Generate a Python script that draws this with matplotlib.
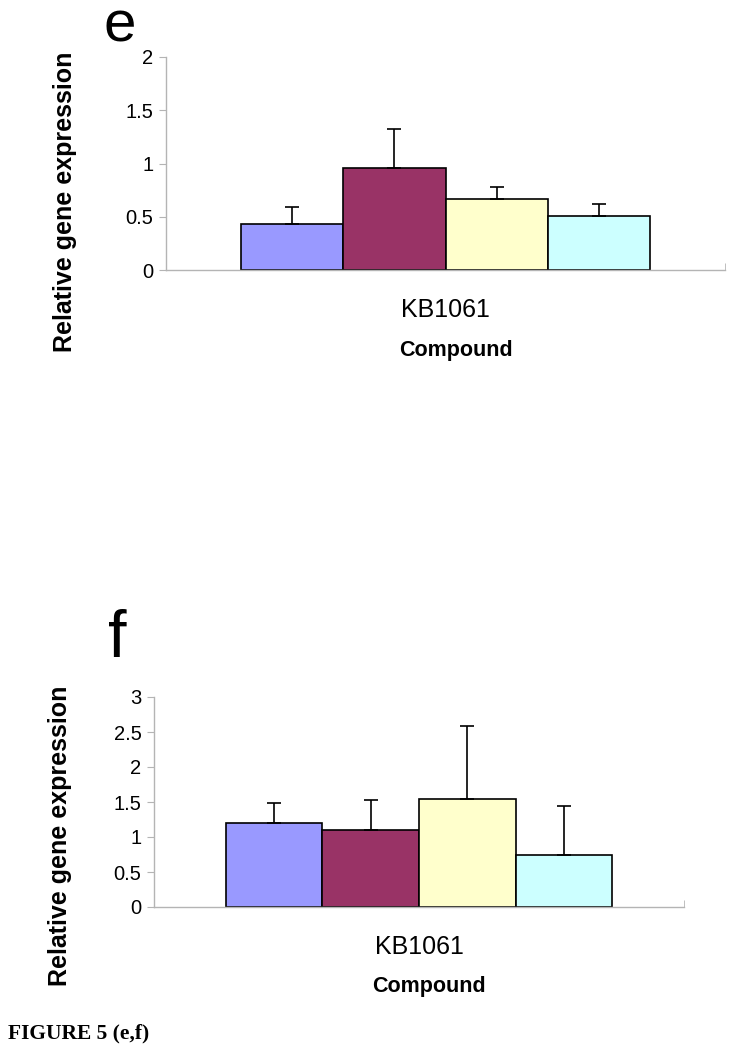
import numpy as np
import matplotlib
matplotlib.use("Agg")
import matplotlib.pyplot as plt

plt.rcParams["font.family"] = ["Liberation Sans", "DejaVu Sans"]

# data
groups = ["KB1061"]
colors = ["#9999FF", "#993366", "#FFFFCC", "#CCFFFF"]
e_vals = [0.43, 0.96, 0.67, 0.51]
e_err = [0.16, 0.36, 0.11, 0.11]
f_vals = [1.20, 1.10, 1.54, 0.74]
f_err = [0.29, 0.43, 1.04, 0.70]
e_ticks = [0, 0.5, 1, 1.5, 2]
f_ticks = [0, 0.5, 1, 1.5, 2, 2.5, 3]

W, H = 737, 1050
fig = plt.figure(figsize=(W/100, H/100), dpi=100)
GREY = "#b4b4b4"

def panel(rect, vals, errs, ticks, frac):
    ax = fig.add_axes(rect)
    n = len(vals)
    x = np.arange(n) - (n - 1) / 2
    ax.bar(x, vals, width=1.0, color=colors, edgecolor="black", linewidth=1.2, zorder=2)
    ax.errorbar(x, vals, yerr=[np.zeros(n), errs], fmt="none", ecolor="black",
                elinewidth=1.2, capsize=5, capthick=1.2, zorder=3)
    half = n / 2 / frac
    ax.set_xlim(-half, half)
    ax.set_ylim(ticks[0], ticks[-1])
    ax.set_yticks(ticks)
    ax.set_yticklabels([f"{t:g}" for t in ticks], fontsize=14.5)
    ax.set_xticks([0])
    ax.set_xticklabels(groups, fontsize=18)
    ax.set_xticks([-half, half], minor=True)
    ax.tick_params(axis="x", which="major", length=0, pad=20)
    ax.tick_params(axis="x", which="minor", direction="in", length=5, color=GREY)
    ax.tick_params(axis="y", direction="out", length=5, color=GREY, pad=4)
    for s in ["top", "right"]:
        ax.spines[s].set_visible(False)
    for s in ["left", "bottom"]:
        ax.spines[s].set_color(GREY)
        ax.spines[s].set_linewidth(1.0)
    ax.set_xlabel("Compound", fontsize=15.5, fontweight="bold", labelpad=14)
    ax.xaxis.set_label_coords(0.518, -0.33)
    return ax

# panel e
panel([166/W, 1-270/H, (725-166)/W, (270-57)/H], e_vals, e_err, e_ticks, 0.73)
fig.text(65/W, 1-202/H, "Relative gene expression", rotation=90, fontsize=18,
         fontweight="bold", ha="center", va="center")
fig.text(103/W, 1-27/H, "e", fontsize=42, ha="left", va="center")

# panel f
panel([154/W, 1-907/H, (684-154)/W, (907-697)/H], f_vals, f_err, f_ticks, 0.73)
fig.text(60/W, 1-836/H, "Relative gene expression", rotation=90, fontsize=18,
         fontweight="bold", ha="center", va="center")
fig.text(108/W, 1-640/H, "f", fontsize=48, ha="left", va="center")

fig.text(8/W, 1-1033/H, "FIGURE 5 (e,f)", fontsize=15.5, fontweight="bold",
         family=["Liberation Serif", "DejaVu Serif"], ha="left", va="center")

fig.savefig("out.png", dpi=100)
